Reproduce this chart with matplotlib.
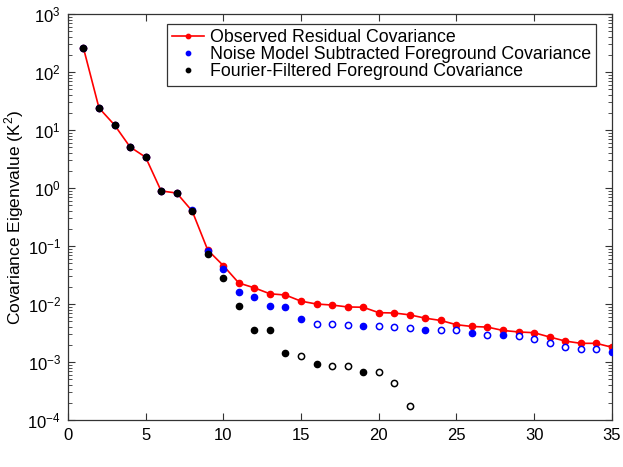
import os

os.environ.setdefault("MPLCONFIGDIR", "/tmp/matplotlib")

import matplotlib

matplotlib.use("Agg")
import matplotlib.pyplot as plt
from matplotlib.ticker import LogLocator, NullFormatter
import numpy as np

# eigenvalue index
mode = list(range(1, 36))

observed = [260, 24, 12.2, 5.1, 3.4, 0.89, 0.82, 0.40, 0.085, 0.046,
            0.023, 0.019, 0.015, 0.0143, 0.0112, 0.0100, 0.0096, 0.0089, 0.0088, 0.0071,
            0.0070, 0.0065, 0.0057, 0.0052, 0.0044, 0.0041, 0.0040, 0.0035, 0.0033, 0.0032,
            0.0027, 0.0023, 0.0021, 0.0021, 0.0018]

# |eigenvalue|; filled marker = positive, open marker = negative
noise_sub = [260, 24, 12.2, 5.1, 3.4, 0.90, 0.83, 0.41, 0.082, 0.040,
             0.0158, 0.0130, 0.0093, 0.0088, 0.0055, 0.0045, 0.0045, 0.0044, 0.0042, 0.0042,
             0.0040, 0.0038, 0.0036, 0.0035, 0.0035, 0.0032, 0.0029, 0.0029, 0.0028, 0.0025,
             0.0021, 0.0018, 0.00165, 0.00165, 0.0015]
noise_pos = [1, 1, 1, 1, 1, 1, 1, 1, 1, 1,
             1, 1, 1, 1, 1, 0, 0, 0, 1, 0,
             0, 0, 1, 0, 0, 1, 0, 1, 0, 0,
             0, 0, 0, 0, 1]

fourier_mode = list(range(1, 23))
fourier = [260, 24, 12.2, 5.1, 3.4, 0.89, 0.82, 0.40, 0.072, 0.028,
           0.0091, 0.0036, 0.0035, 0.00143, 0.00126, 0.00092, 0.00085, 0.00085, 0.00068, 0.00068,
           0.00044, 0.000174]
fourier_pos = [1, 1, 1, 1, 1, 1, 1, 1, 1, 1,
               1, 1, 1, 1, 0, 1, 0, 0, 1, 0,
               0, 0]

plt.rcParams["font.family"] = ["Liberation Sans", "DejaVu Sans"]
plt.rcParams["mathtext.fontset"] = "custom"
plt.rcParams["mathtext.rm"] = "Liberation Sans"

fig = plt.figure(figsize=(6.23, 4.67), dpi=100)
ax = fig.add_axes([0.109, 0.1006, 0.873, 0.8694])

ax.plot(mode, observed, "-", color="red", lw=1.2, marker="o", ms=4.5,
        mfc="red", mec="red", zorder=2, label="Observed Residual Covariance")


def scatter_split(x, y, pos, color, label, z):
    x = np.array(x)
    y = np.array(y)
    pos = np.array(pos, dtype=bool)
    ax.plot(x[pos], y[pos], "o", ls="none", ms=4.5, mfc=color, mec=color,
            zorder=z, label=label)
    ax.plot(x[~pos], y[~pos], "o", ls="none", ms=4.5, mfc="white", mec=color,
            mew=1.1, zorder=z)


scatter_split(mode, noise_sub, noise_pos, "blue",
              "Noise Model Subtracted Foreground Covariance", 3)
scatter_split(fourier_mode, fourier, fourier_pos, "black",
              "Fourier-Filtered Foreground Covariance", 4)

ax.set_yscale("log")
ax.set_xlim(0, 35)
ax.set_ylim(1e-4, 1e3)
ax.set_xticks(range(0, 36, 5))
ax.yaxis.set_major_locator(LogLocator(base=10, numticks=20))
ax.yaxis.set_minor_locator(LogLocator(base=10, subs=np.arange(2, 10), numticks=20))
ax.yaxis.set_minor_formatter(NullFormatter())
ax.tick_params(which="both", direction="in", top=True, right=True, labelsize=12,
               color="#333333")
ax.tick_params(axis="x", which="major", length=5, pad=6)
ax.tick_params(axis="y", which="major", length=5, pad=5)
ax.tick_params(which="minor", length=3)
for s in ax.spines.values():
    s.set_linewidth(0.9)
    s.set_color("#333333")

ax.set_ylabel("Covariance Eigenvalue (K$^2$)", fontsize=12.5)
ax.yaxis.set_label_coords(-0.077, 0.5)

leg = ax.legend(loc="upper right", bbox_to_anchor=(0.971, 0.975), borderaxespad=0,
                fontsize=12.8, frameon=True, fancybox=False, edgecolor="black",
                handlelength=1.8, handletextpad=0.3, borderpad=0.3, labelspacing=0.0,
                markerscale=0.7)
leg.get_frame().set_linewidth(0.9)

fig.savefig("out.png", dpi=100)
